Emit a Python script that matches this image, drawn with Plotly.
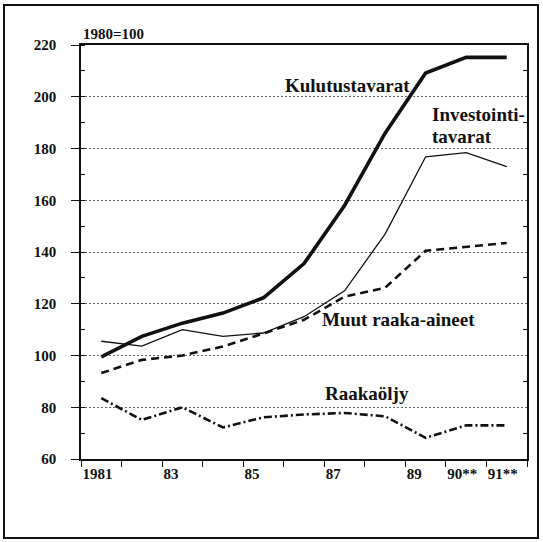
import plotly.graph_objects as go

# index 1980=100
years = [1981, 1982, 1983, 1984, 1985, 1986, 1987, 1988, 1989, 1990, 1991]
kulutustavarat = [99.5, 107.4, 112.5, 116.4, 122.3, 135.5, 158.0, 185.9, 209.2, 215.2, 215.2]
investointitavarat = [105.5, 103.6, 110.0, 107.4, 108.7, 115.0, 125.0, 146.9, 176.8, 178.4, 173.0]
muut_raaka_aineet = [93.2, 98.3, 100.0, 103.5, 108.5, 113.8, 122.7, 126.2, 140.5, 142.0, 143.5]
raakaoljy = [83.5, 75.1, 80.0, 72.2, 76.1, 77.2, 77.8, 76.5, 68.2, 73.0, 73.0]

# year boundaries carry the ticks, labels sit to the right of them
tick_bounds = [1980.5 + i for i in range(12)]
tick_labels = ["1981", "", "83", "", "85", "", "87", "", "89", "90**", "91**", ""]

W, H = 543, 542
L, R, T, B = 81, 16, 45, 83
pw, ph = W - L - R, H - T - B
ink = "#111111"
serif = "Liberation Serif"

fig = go.Figure()
fig.add_trace(go.Scatter(x=years, y=kulutustavarat, mode="lines",
                         line=dict(color=ink, width=3.6)))
fig.add_trace(go.Scatter(x=years, y=investointitavarat, mode="lines",
                         line=dict(color=ink, width=1.3)))
fig.add_trace(go.Scatter(x=years, y=muut_raaka_aineet, mode="lines",
                         line=dict(color=ink, width=2.6, dash="8px,5px")))
fig.add_trace(go.Scatter(x=years, y=raakaoljy, mode="lines", yaxis="y2",
                         line=dict(color=ink, width=2.6, dash="8px,3px,2px,3px")))

tickfont = dict(family=serif, size=15, color=ink, weight="bold")
labfont = dict(family=serif, size=19, color=ink, weight="bold")

fig.update_layout(
    width=W, height=H,
    margin=dict(l=L, r=R, t=T, b=B),
    paper_bgcolor="white", plot_bgcolor="white",
    showlegend=False,
    xaxis=dict(range=[1980.5, 1991.5], tickmode="array", tickvals=tick_bounds,
               ticktext=tick_labels, ticks="outside", ticklen=6, tickwidth=1.3,
               tickcolor=ink, ticklabelposition="outside right",
               tickfont=tickfont, showgrid=False, zeroline=False,
               showline=True, linecolor=ink, linewidth=1.5, mirror=True),
    yaxis=dict(range=[60, 220], tickmode="linear", tick0=60, dtick=20,
               ticks="outside", ticklen=8, tickwidth=1.3, tickcolor=ink,
               tickfont=tickfont, ticklabelstandoff=12,
               showgrid=True, gridcolor="#666666", gridwidth=1, griddash="2px,2px",
               zeroline=False, showline=True, linecolor=ink, linewidth=1.5,
               minor=dict(ticks="inside", ticklen=4, dtick=10, tick0=70,
                          tickcolor=ink, tickwidth=1.2, showgrid=False)),
    yaxis2=dict(overlaying="y", matches="y", side="right", showticklabels=False,
                ticks="", showgrid=False, zeroline=False,
                showline=True, linecolor=ink, linewidth=1.5,
                minor=dict(ticks="inside", ticklen=4, dtick=10, tick0=70,
                           tickcolor=ink, tickwidth=1.2, showgrid=False)),
)

fig.add_annotation(text="1980=100", xref="paper", yref="paper", x=0, y=1,
                   xanchor="left", yanchor="bottom", yshift=1, showarrow=False,
                   font=tickfont)
fig.add_annotation(text="Kulutustavarat", x=1987.07, y=204.2, showarrow=False,
                   xanchor="center", yanchor="middle", font=labfont)
fig.add_annotation(text="Investointi-", x=1989.1, y=193.3, showarrow=False,
                   xanchor="left", yanchor="middle", font=labfont)
fig.add_annotation(text="tavarat", x=1989.1, y=184.8, showarrow=False,
                   xanchor="left", yanchor="middle", font=labfont)
fig.add_annotation(text="Muut raaka-aineet", x=1988.33, y=114.1, showarrow=False,
                   xanchor="center", yanchor="middle", font=labfont)
fig.add_annotation(text="Raakaöljy", x=1987.55, y=85.5, showarrow=False,
                   xanchor="center", yanchor="middle", font=labfont)

# outer frame around the whole picture
fig.add_shape(type="rect", xref="paper", yref="paper",
              x0=(4 - L) / pw, x1=(538 - L) / pw,
              y0=(H - B - 538) / ph, y1=(H - B - 5) / ph,
              line=dict(color=ink, width=2))

# the page's default body margin would push the figure 8px in
fig.write_html("out.html", config={"displayModeBar": False},
               post_script="document.body.style.margin='0';")
